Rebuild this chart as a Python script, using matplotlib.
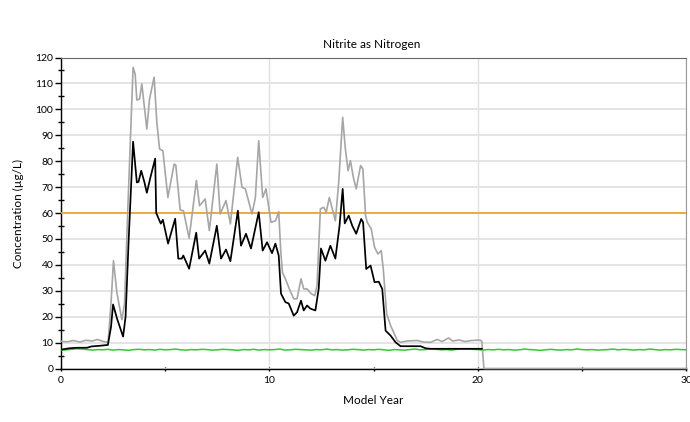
import numpy as np
import matplotlib
matplotlib.use("Agg")
import matplotlib.pyplot as plt
from matplotlib.ticker import MultipleLocator

plt.rcParams['font.family'] = ['Lato', 'DejaVu Sans']

# Simulated concentration, lower series (black)
black_year = [0.0, 0.4, 0.75, 1.25, 1.45, 1.9, 2.25, 2.4, 2.5, 2.7, 2.98, 3.1, 3.25, 3.46,
              3.64, 3.72, 3.85, 4.0, 4.12, 4.3, 4.52, 4.57, 4.79, 4.89, 5.14, 5.48, 5.63,
              5.8, 5.87, 6.15, 6.49, 6.63, 6.92, 7.12, 7.48, 7.68, 7.92, 8.13, 8.49, 8.64,
              8.88, 9.12, 9.49, 9.68, 9.89, 10.13, 10.29, 10.45, 10.56, 10.77, 10.93, 11.17,
              11.33, 11.52, 11.65, 11.81, 11.97, 12.21, 12.37, 12.48, 12.69, 12.93, 13.17,
              13.37, 13.52, 13.62, 13.81, 13.98, 14.17, 14.41, 14.5, 14.65, 14.86, 15.05,
              15.25, 15.42, 15.58, 15.82, 16.06, 16.3, 17.26, 17.5, 17.74, 20.2]
black_val = [7.3, 7.8, 8.0, 8.0, 8.5, 8.8, 9.1, 16.0, 24.7, 19.0, 12.3, 20.0, 50.0, 87.5,
             71.8, 72.0, 76.3, 72.0, 67.8, 74.0, 81.0, 60.0, 55.9, 57.4, 48.2, 57.8, 42.4,
             42.4, 43.6, 38.5, 52.4, 42.4, 45.5, 40.5, 55.1, 42.4, 45.9, 41.4, 60.9, 47.4,
             52.0, 46.3, 60.3, 45.5, 48.7, 44.5, 48.2, 43.6, 28.9, 25.6, 25.1, 20.4,
             21.7, 26.2, 22.4, 24.3, 23.1, 22.4, 30.8, 46.3, 41.6, 47.4, 42.4,
             55.1, 69.3, 56.0, 59.0, 55.1, 52.0, 57.7, 56.4, 38.4, 39.7, 33.3,
             33.5, 30.7, 14.6, 12.7, 10.1, 8.6, 8.6, 7.8, 7.6, 7.6]

# Simulated concentration, upper series (grey)
grey_year = [0.0, 0.3, 0.6, 0.9, 1.2, 1.5, 1.75, 2.0, 2.26, 2.4, 2.52, 2.68, 2.92, 3.05,
             3.2, 3.46, 3.56, 3.64, 3.77, 3.88, 4.12, 4.25, 4.47, 4.6, 4.73, 4.89, 5.13,
             5.43, 5.51, 5.72, 5.88, 6.15, 6.5, 6.65, 6.92, 7.12, 7.48, 7.64, 7.92, 8.13,
             8.48, 8.69, 8.85, 9.17, 9.33, 9.49, 9.68, 9.84, 10.08, 10.3, 10.45, 10.55,
             10.63, 10.77, 10.96, 11.17, 11.33, 11.52, 11.65, 11.81, 12.02, 12.18, 12.29,
             12.45, 12.61, 12.73, 12.88, 13.17, 13.33, 13.52, 13.65, 13.78, 13.89, 14.05,
             14.17, 14.38, 14.49, 14.62, 14.7, 14.89, 15.05, 15.21, 15.37, 15.47, 15.63,
             15.82, 16.14, 16.3, 16.6, 17.1, 17.4, 17.74, 18.06, 18.3, 18.6, 18.8, 19.1,
             19.4, 19.7, 20.11, 20.2, 20.3, 30.0]
grey_val = [10.5, 10.3, 10.8, 10.2, 10.9, 10.6, 11.2, 10.5, 10.0, 25.0, 41.6, 29.4, 18.8, 25.0,
            60.0, 116.2, 113.6, 103.6, 104.0, 109.8, 92.4, 104.0, 112.4, 95.0, 84.7, 84.0, 66.0,
            78.9, 78.5, 61.2, 60.8, 50.3, 72.6, 62.8, 65.4, 53.2, 78.9, 59.6, 64.8, 55.8,
            81.5, 69.9, 69.3, 59.6, 66.0, 87.9, 66.0, 69.3, 56.4, 57.0, 60.5, 45.0,
            37.0, 34.6, 30.7, 26.9, 26.9, 34.6, 30.7, 30.7, 28.8, 28.1, 32.0,
            61.6, 62.2, 60.3, 66.0, 57.0, 71.8, 96.9, 84.7, 76.3, 80.2, 73.1,
            69.3, 78.3, 77.0, 59.0, 56.4, 53.9, 46.8, 44.2, 45.5, 38.4, 21.1,
            16.6, 10.8, 10.1, 10.6, 10.8, 10.2, 10.1, 11.2, 10.4, 11.8, 10.6, 11.0,
            10.4, 10.8, 11.0, 10.5, 0.0, 0.0]

# Background level (green), quarter-year samples over the 30-year run
green_val = [7.0, 7.2, 7.4, 7.6, 7.5, 7.3, 7.1, 7.3, 7.2, 7.4, 7.1, 7.3, 7.2, 7.0, 7.3, 7.4,
             7.2, 7.3, 7.1, 7.4, 7.2, 7.3, 7.5, 7.2, 7.1, 7.3, 7.2, 7.4, 7.3, 7.1, 7.2, 7.4,
             7.3, 7.2, 7.0, 7.3, 7.2, 7.4, 7.1, 7.3, 7.2, 7.3, 7.5, 7.1, 7.2, 7.4, 7.3, 7.2,
             7.1, 7.3, 7.2, 7.5, 7.2, 7.3, 7.1, 7.2, 7.4, 7.3, 7.1, 7.3, 7.2, 7.4, 7.2, 7.0,
             7.3, 7.2, 7.1, 7.3, 7.5, 7.2, 7.3, 7.6, 7.4, 7.2, 7.3, 7.1, 7.4, 7.5, 7.5, 7.4,
             7.3, 7.1, 7.3, 7.2, 7.4, 7.2, 7.3, 7.1, 7.2, 7.5, 7.3, 7.2, 7.0, 7.2, 7.4, 7.2,
             7.1, 7.3, 7.2, 7.5, 7.3, 7.2, 7.3, 7.1, 7.2, 7.3, 7.5, 7.2, 7.4, 7.3, 7.1, 7.3,
             7.2, 7.5, 7.3, 7.1, 7.3, 7.2, 7.4, 7.3, 7.2]
green_year = np.linspace(0, 30, len(green_val))

# Regulatory limit
limit_val = 60

fig = plt.figure(figsize=(6.9, 4.22), dpi=100)
ax = fig.add_axes([61 / 690, 1 - 368.5 / 422, 625 / 690, 311 / 422])

ax.set_xlim(0, 30)
ax.set_ylim(0, 120)

ax.axhline(limit_val, color='#F2A52A', lw=1.3, zorder=3)
ax.plot(green_year, green_val, color='#2ECC2E', lw=1.1, zorder=3)
ax.plot(grey_year, grey_val, color='#A6A6A6', lw=1.2, zorder=4, clip_on=False)
ax.plot(black_year, black_val, color='black', lw=1.25, zorder=5)

ax.xaxis.set_major_locator(MultipleLocator(10))
ax.xaxis.set_minor_locator(MultipleLocator(5))
ax.yaxis.set_major_locator(MultipleLocator(10))
ax.yaxis.set_minor_locator(MultipleLocator(5))

ax.grid(axis='y', which='major', color='#E4E4E4', lw=1.4)
ax.grid(axis='x', which='major', color='#E0E0E0', lw=1.0)
ax.set_axisbelow(True)

ax.tick_params(axis='y', which='major', direction='out', length=4, width=1,
               labelsize=7.5, pad=1.5, colors='black')
ax.tick_params(axis='y', which='minor', direction='inout', length=4, width=1)
ax.tick_params(axis='x', which='both', direction='inout', length=3.5, width=1,
               labelsize=7.5, pad=4)

for s in ('left', 'bottom'):
    ax.spines[s].set_color('black')
    ax.spines[s].set_linewidth(1.0)
ax.spines['top'].set_color('#666666')
ax.spines['right'].set_color('#999999')

ax.set_xlabel('Model Year', fontsize=8.5, labelpad=7)
ax.set_ylabel('Concentration (µg/L)', fontsize=8.5, labelpad=8)
fig.text(372 / 690, 1 - 45 / 422, 'Nitrite as Nitrogen', ha='center', va='center',
         fontsize=8.5)

fig.savefig('out.png', dpi=100)
